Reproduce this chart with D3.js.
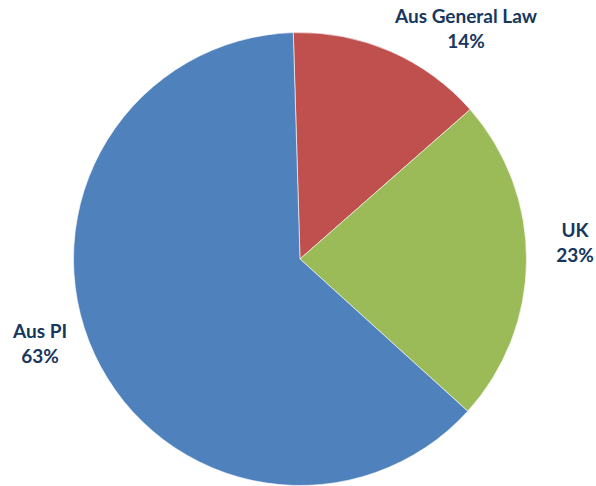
<!DOCTYPE html>
<html>
<head>
<meta charset="utf-8">
<script src="https://cdn.jsdelivr.net/npm/d3@7"></script>
<style>
  body { margin: 0; background: #fff; }
  text { font-family: Lato, "Open Sans", sans-serif; font-weight: bold; fill: #17375E; }
</style>
</head>
<body>
<div id="chart"></div>
<script>
// chart data
const categories = ["Aus General Law", "UK", "Aus PI"];
const values = [14.0, 23.2, 62.8];
const pctLabels = ["14%", "23%", "63%"];
const colors = ["#C0504D", "#9BBB59", "#4F81BD"];

const width = 596, height = 486;
const cx = 300, cy = 259, radius = 226.5;
const startAngle = -1.7 * Math.PI / 180;

// label positions (centre of the two lines)
const labelPos = [
    {x: 466, y: 23},
    {x: 575, y: 237},
    {x: 40, y: 338}
];

const svg = d3.select("#chart").append("svg")
    .attr("width", width)
    .attr("height", height);

const pie = d3.pie()
    .sort(null)
    .startAngle(startAngle)
    .endAngle(startAngle + 2 * Math.PI)
    .value(d => d);

const arc = d3.arc().innerRadius(0).outerRadius(radius);

const g = svg.append("g")
    .attr("transform", "translate(" + cx + "," + cy + ")");

g.selectAll("path")
    .data(pie(values))
    .enter().append("path")
    .attr("d", arc)
    .attr("fill", (d, i) => colors[i])
    .attr("stroke", "#fff")
    .attr("stroke-width", 0.6);

// labels
const labels = svg.selectAll(".label")
    .data(categories)
    .enter().append("text")
    .attr("class", "label")
    .attr("text-anchor", "middle")
    .attr("font-size", 19)
    .attr("x", (d, i) => labelPos[i].x)
    .attr("y", (d, i) => labelPos[i].y);

labels.append("tspan")
    .attr("x", (d, i) => labelPos[i].x)
    .text(d => d);

labels.append("tspan")
    .attr("x", (d, i) => labelPos[i].x)
    .attr("dy", 25)
    .text((d, i) => pctLabels[i]);
</script>
</body>
</html>
